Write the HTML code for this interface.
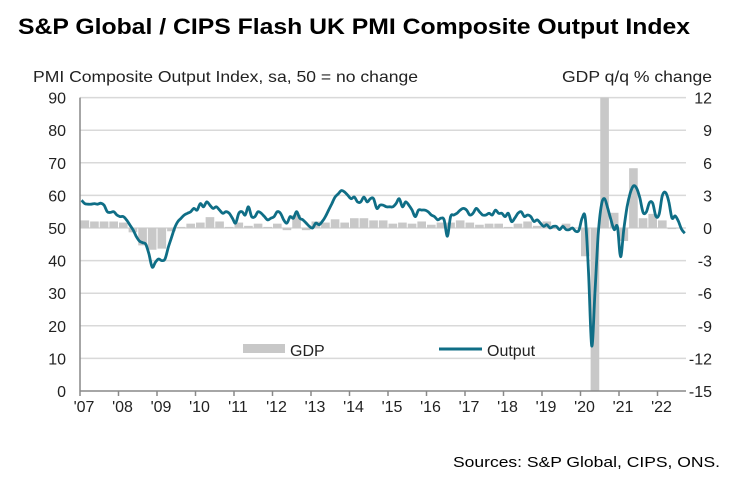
<!DOCTYPE html>
<html><head><meta charset="utf-8"><style>
body{margin:0;background:#fff;}
svg{display:block;font-family:"Liberation Sans",Arial,sans-serif;}
</style></head><body>
<svg id="chart" width="750" height="480" viewBox="0 0 750 480">
<text x="18" y="34" font-size="22" font-weight="bold" fill="#000" textLength="672" lengthAdjust="spacingAndGlyphs">S&amp;P Global / CIPS Flash UK PMI Composite Output Index</text>
<text x="33" y="82" font-size="16" fill="#222" textLength="385" lengthAdjust="spacingAndGlyphs">PMI Composite Output Index, sa, 50 = no change</text>
<text x="562" y="82" font-size="16" fill="#222" textLength="150" lengthAdjust="spacingAndGlyphs">GDP q/q % change</text>
<text x="453" y="467" font-size="15" fill="#000" textLength="267" lengthAdjust="spacingAndGlyphs">Sources: S&amp;P Global, CIPS, ONS.</text>
<g id="grid"></g><g id="bars"></g><g id="line"></g><g id="axes"></g>
<g>
<rect x="243" y="344" width="42" height="9" fill="#c8c8c8"/>
<text x="290" y="356" font-size="16" fill="#222">GDP</text>
<line x1="439" y1="349" x2="482" y2="349" stroke="#0f6e86" stroke-width="3"/>
<text x="487" y="356" font-size="16" fill="#222">Output</text>
</g>
</svg>
<script>
const years = ["'07","'08","'09","'10","'11","'12","'13","'14","'15","'16","'17","'18","'19","'20","'21","'22"];
const leftTicks = [0,10,20,30,40,50,60,70,80,90];
const rightTicks = [-15,-12,-9,-6,-3,0,3,6,9,12];
const gdp = [0.7,0.6,0.6,0.6, 0.5,-0.4,-1.6,-2.0, -1.9,-0.3,0.1,0.4, 0.5,1.0,0.6,0.1, 0.5,0.2,0.4,0.1, 0.4,-0.2,1.2,-0.2, 0.6,0.5,0.8,0.5, 0.9,0.9,0.7,0.7, 0.4,0.5,0.4,0.6, 0.3,0.5,0.5,0.7, 0.5,0.3,0.4,0.4, 0.1,0.4,0.6,0.2, 0.6,-0.1,0.4,0.0, -2.6,-19.4,16.9,1.4, -1.2,5.5,0.9,1.3, 0.7,-0.1];
const output = [
58.5,57.5,57.3,57.3,57.5,57.3,57.6,57.0,55.0,54.8,55.0,54.0,
53.5,53.5,52.5,51.0,49.5,47.5,46.0,45.5,45.0,42.0,38.0,39.5,
40.5,40.0,40.5,44.0,47.0,50.0,52.0,53.0,54.0,54.5,55.0,56.0,
55.5,57.5,56.5,58.0,57.0,56.0,56.5,55.5,54.5,55.0,54.5,53.0,
51.5,54.5,55.0,54.0,56.5,53.5,53.5,55.0,54.5,53.5,52.5,53.0,
53.5,55.0,54.5,52.5,51.5,53.5,53.0,55.0,53.0,52.5,51.5,50.5,
50.0,51.5,51.0,52.0,53.5,55.5,57.5,59.5,60.5,61.5,61.0,60.0,
59.0,59.5,58.0,58.0,59.5,58.0,59.0,59.0,56.0,57.0,57.0,56.5,
56.5,56.5,57.5,59.0,56.5,58.0,57.0,55.5,53.5,55.5,55.5,55.5,
55.0,54.0,53.5,52.5,53.0,52.5,47.5,53.5,54.0,54.5,55.5,56.0,
55.5,54.0,54.5,56.0,55.0,54.0,54.0,54.5,54.0,55.5,54.5,54.5,
53.5,54.5,52.0,53.0,54.5,55.0,53.5,54.0,53.5,52.0,52.5,51.5,
50.5,51.0,50.0,50.5,50.5,49.5,50.5,49.5,49.5,50.0,49.0,49.3,
53.0,53.0,36.5,13.8,30.0,47.7,57.0,59.0,56.0,52.5,49.5,50.4,
41.2,49.6,56.4,60.7,62.9,62.2,59.2,54.8,54.9,57.8,57.6,53.6,
54.2,59.9,60.9,58.2,53.1,53.7,52.1,49.6,48.4];

const NS='http://www.w3.org/2000/svg';
const X0=80, YW=38.5, XR=686, Y0=391, UNIT=3.26;
const xT = t => X0 + t*YW;
const yL = v => Y0 - v*UNIT;
const yR = g => yL(50 + g*10/3);
function mk(tag, attrs, parent){const e=document.createElementNS(NS,tag);for(const k in attrs)e.setAttribute(k,attrs[k]);parent.appendChild(e);return e;}
const G=document.getElementById('grid'),B=document.getElementById('bars'),L=document.getElementById('line'),A=document.getElementById('axes');

leftTicks.forEach(v=>{
  if(v>0){const gl=mk('line',{x1:X0,x2:XR,y1:yL(v),y2:yL(v),stroke:'#d9d9d9','stroke-width':1.5},G);
  
  }
  const t=mk('text',{x:66,y:yL(v)+6,'font-size':16,fill:'#222','text-anchor':'end'},A);t.textContent=v;
  
  
});
rightTicks.forEach(v=>{
  const t=mk('text',{x:712,y:yR(v)+6,'font-size':16,fill:'#222','text-anchor':'end'},A);t.textContent=v;
  
  
});
const ymax=yL(90);
gdp.forEach((g,i)=>{
  const gc=Math.max(-15,Math.min(12,g));
  const x=xT(i/4)+0.5, top=Math.min(yR(0),yR(gc)), h=Math.abs(yR(gc)-yR(0));
  const r=mk('rect',{x:x,y:top,width:YW/4-1,height:h,fill:'#c8c8c8'},B);
  
  
});
const pts=output.map((v,i)=>[xT((i+0.5)/12),yL(v)]);
let d='M'+pts[0][0].toFixed(1)+','+pts[0][1].toFixed(1);
for(let i=0;i<pts.length-1;i++){
  const p0=pts[Math.max(0,i-1)],p1=pts[i],p2=pts[i+1],p3=pts[Math.min(pts.length-1,i+2)];
  const c1=[p1[0]+(p2[0]-p0[0])/6,p1[1]+(p2[1]-p0[1])/6],c2=[p2[0]-(p3[0]-p1[0])/6,p2[1]-(p3[1]-p1[1])/6];
  d+=`C${c1[0].toFixed(1)},${c1[1].toFixed(1)} ${c2[0].toFixed(1)},${c2[1].toFixed(1)} ${p2[0].toFixed(1)},${p2[1].toFixed(1)}`;
}
const pl=mk('path',{d:d,fill:'none',stroke:'#0f6e86','stroke-width':2.8,'stroke-linejoin':'round'},L);



const ax=mk('line',{x1:X0,x2:X0,y1:ymax,y2:Y0,stroke:'#888','stroke-width':1.5},A);


const bx=mk('line',{x1:X0,x2:XR,y1:Y0,y2:Y0,stroke:'#888','stroke-width':1.5},A);


years.forEach((y,i)=>{
  const x=xT(i);
  const tk=mk('line',{x1:x,x2:x,y1:Y0,y2:Y0+5,stroke:'#888','stroke-width':1.5},A);
  
  
  const t=mk('text',{x:x+4,y:Y0+21,'font-size':16,fill:'#222','text-anchor':'middle'},A);t.textContent=y;
  
  
});
</script>
</body></html>
